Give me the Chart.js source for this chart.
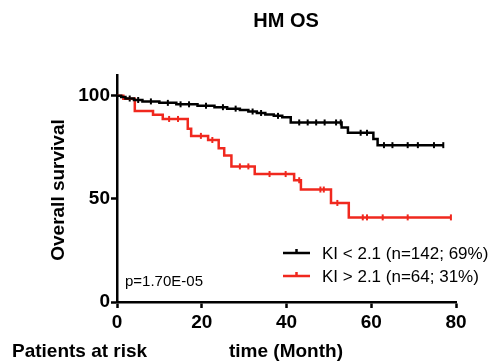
<!DOCTYPE html>
<html>
<head>
<meta charset="utf-8">
<script src="https://cdn.jsdelivr.net/npm/chart.js@4.4.1/dist/chart.umd.min.js"></script>
<style>
    body { margin: 0; background: #fff; }
    #wrap { width: 503px; height: 363px; }
</style>
</head>
<body>
<div id="wrap"><canvas id="kmChart" width="503" height="363"></canvas></div>
<script>
// ===================================
// DATOS
// ===================================

// KI < 2.1 (negro): tiempos de evento y supervivencia tras cada paso
const lowTimes = [0, 1, 2, 4, 6, 10, 14, 19, 23, 26, 29, 31, 33, 35, 37, 39, 41, 53, 54.5, 60.5, 61.5, 77];
const lowSurv  = [100, 99.3, 98.6, 97.9, 97.2, 96.5, 95.8, 95.1, 94.4, 93.7, 93.0, 92.3, 91.6, 90.9, 90.2, 89.5, 87.0, 84.5, 82.0, 79.0, 76.0, 76.0];
const lowCensor = [3, 5, 8, 12, 15, 17, 21, 25, 28, 32, 34, 38, 43, 45, 47, 49, 51.7, 52.8, 57.5, 59, 63, 65, 68.6, 71, 74.8, 77];

// KI > 2.1 (rojo)
const highTimes = [0, 1.5, 4.2, 8.5, 10.8, 16.7, 17.5, 21.5, 24, 25.3, 27, 32.5, 41.8, 43.4, 50.5, 54.7, 78.8];
const highSurv  = [100, 98.5, 92.5, 90.7, 88.7, 84.0, 80.5, 78.5, 74.5, 71.0, 65.7, 62.0, 59.0, 54.5, 48.0, 41.0, 41.0];
const highCensor = [12.3, 14.4, 19.8, 22.5, 29, 31, 36, 39.8, 43, 48, 48.8, 52, 58, 59, 62.7, 68.6, 78.8];

const xTicks = [0, 20, 40, 60, 80];
const yTicks = [0, 50, 100];
const seriesLabels = ['KI < 2.1 (n=142; 69%)', 'KI > 2.1 (n=64; 31%)'];
const seriesColors = ['#000000', '#f0281e'];
const chartTitle = 'HM OS';
const yTitle = 'Overall survival';
const xTitle = 'time (Month)';
const riskLabel = 'Patients at risk';
const pValue = 'p=1.70E-05';

// Supervivencia en un tiempo dado (función escalón)
function survivalAt(times, surv, t) {
    let s = surv[0];
    for (let i = 0; i < times.length; i++) {
        if (times[i] <= t) s = surv[i];
    }
    return s;
}

function toPoints(times, surv) {
    return times.map((t, i) => ({ x: t, y: surv[i] }));
}

function censorPoints(times, surv, censor) {
    return censor.map(t => ({ x: t, y: survivalAt(times, surv, t) }));
}

const FONT = "'Liberation Sans', Arial, sans-serif";

// ===================================
// TEXTOS Y LEYENDA
// ===================================
const textPlugin = {
    id: 'kmTexts',
    afterDraw(chart) {
        const c = chart.ctx;
        c.save();
        c.fillStyle = '#000';

        c.font = 'bold 20px ' + FONT;
        c.textAlign = 'center';
        c.textBaseline = 'middle';
        c.fillText(chartTitle, 286, 21);

        c.font = 'bold 19px ' + FONT;
        c.save();
        c.translate(59, 190);
        c.rotate(-Math.PI / 2);
        c.fillText(yTitle, 0, 0);
        c.restore();

        c.fillText(xTitle, 286, 352);
        c.textAlign = 'left';
        c.fillText(riskLabel, 12, 352);

        c.font = '15px ' + FONT;
        c.fillText(pValue, 125, 282);

        // leyenda
        const legendY = [253, 276];
        c.font = '17px ' + FONT;
        seriesLabels.forEach((label, i) => {
            const y = legendY[i];
            c.strokeStyle = seriesColors[i];
            c.lineWidth = 2.5;
            c.beginPath();
            c.moveTo(283, y);
            c.lineTo(310, y);
            c.moveTo(296.5, y - 4);
            c.lineTo(296.5, y);
            c.stroke();
            c.fillStyle = '#000';
            c.fillText(label, 322, y + 1);
        });
        c.restore();
    }
};

// ===================================
// GRÁFICA
// ===================================
const ctx = document.getElementById('kmChart');

const kmChart = new Chart(ctx, {
    type: 'line',
    data: {
        datasets: [
            {
                label: seriesLabels[0],
                data: toPoints(lowTimes, lowSurv),
                borderColor: seriesColors[0],
                borderWidth: 2.5,
                stepped: 'before',
                pointRadius: 0,
                fill: false
            },
            {
                label: seriesLabels[1],
                data: toPoints(highTimes, highSurv),
                borderColor: seriesColors[1],
                borderWidth: 2.5,
                stepped: 'before',
                pointRadius: 0,
                fill: false
            },
            {
                label: 'censor-low',
                data: censorPoints(lowTimes, lowSurv, lowCensor),
                showLine: false,
                pointStyle: 'line',
                rotation: 90,
                pointRadius: 3,
                pointBorderWidth: 2,
                pointBorderColor: seriesColors[0]
            },
            {
                label: 'censor-high',
                data: censorPoints(highTimes, highSurv, highCensor),
                showLine: false,
                pointStyle: 'line',
                rotation: 90,
                pointRadius: 3,
                pointBorderWidth: 2,
                pointBorderColor: seriesColors[1]
            }
        ]
    },
    options: {
        responsive: false,
        animation: false,
        layout: {
            padding: { left: 76, right: 47, top: 75, bottom: 31 }
        },
        plugins: {
            legend: { display: false },
            title: { display: false },
            tooltip: { enabled: false }
        },
        scales: {
            x: {
                type: 'linear',
                min: 0,
                max: 80,
                afterBuildTicks: scale => { scale.ticks = xTicks.map(v => ({ value: v })); },
                afterFit: scale => { scale.height = 30; },
                border: { color: '#000', width: 2.5 },
                grid: {
                    drawOnChartArea: false,
                    drawTicks: true,
                    tickLength: 6,
                    tickColor: '#000',
                    tickWidth: 2.5
                },
                ticks: {
                    color: '#000',
                    padding: 3,
                    font: { family: FONT, size: 19, weight: 'bold' }
                }
            },
            y: {
                min: 0,
                max: 110,
                afterBuildTicks: scale => { scale.ticks = yTicks.map(v => ({ value: v })); },
                afterFit: scale => { scale.width = 41; },
                border: { color: '#000', width: 2.5 },
                grid: {
                    drawOnChartArea: false,
                    drawTicks: true,
                    tickLength: 6,
                    tickColor: '#000',
                    tickWidth: 2.5
                },
                ticks: {
                    color: '#000',
                    padding: 1,
                    font: { family: FONT, size: 19, weight: 'bold' }
                }
            }
        }
    },
    plugins: [textPlugin]
});
</script>
</body>
</html>
